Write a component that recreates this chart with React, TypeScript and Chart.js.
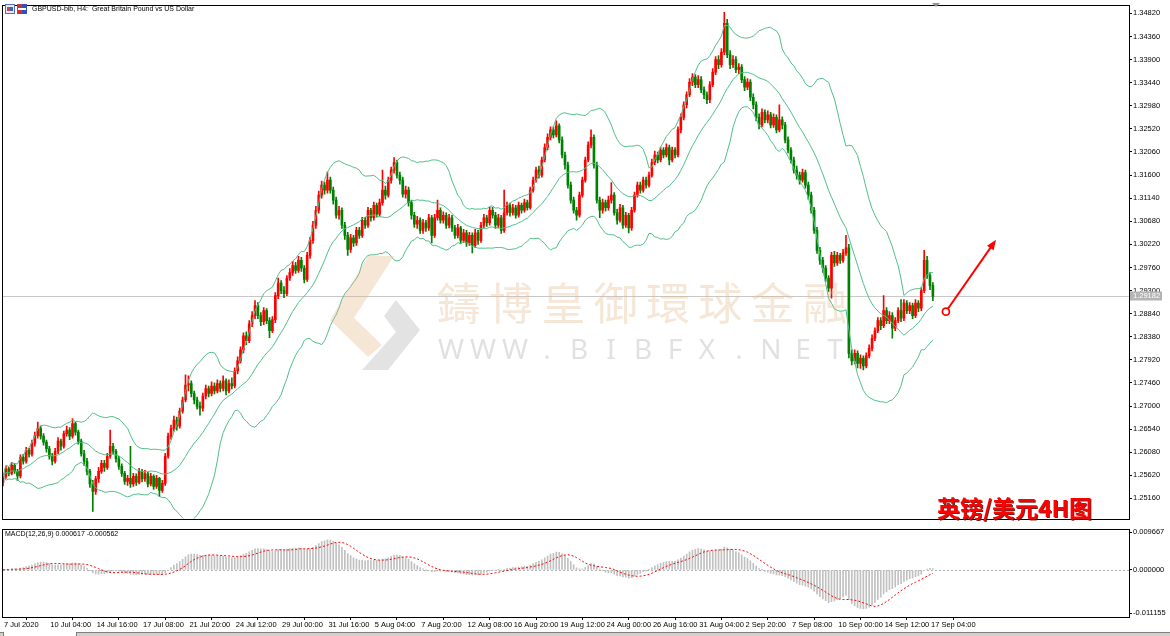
import React, { useEffect, useRef } from "react";
import { Chart, registerables } from "chart.js";

Chart.register(...registerables);

const FONT = "'Liberation Sans', Arial, sans-serif";

const symbolTitle = "GBPUSD-bib, H4:  Great Britain Pound vs US Dollar";
const macdTitle = "MACD(12,26,9) 0.000617 -0.000562";
const chartTag = "英镑/美元4H图";
const watermarkCn = "鑄博皇御環球金融";
const watermarkEn = "WWW.BIBFX.NET";
const lastPriceLabel = "1.29182";

const firstOpen = 1.2548;
const closes = [
  1.2560,1.2575,1.2566,1.2582,1.2570,1.2561,1.2598,1.2590,1.2612,1.2604,
  1.2626,1.2641,1.2655,1.2640,1.2628,1.2615,1.2600,1.2590,1.2610,1.2630,
  1.2620,1.2645,1.2652,1.2640,1.2665,1.2648,1.2630,1.2605,1.2590,1.2570,
  1.2545,1.2530,1.2555,1.2570,1.2586,1.2578,1.2600,1.2620,1.2610,1.2595,
  1.2580,1.2566,1.2550,1.2556,1.2545,1.2560,1.2548,1.2570,1.2555,1.2565,
  1.2545,1.2560,1.2540,1.2556,1.2532,1.2546,1.2600,1.2640,1.2655,1.2672,
  1.2660,1.2690,1.2712,1.2742,1.2745,1.2725,1.2712,1.2700,1.2696,1.2720,
  1.2735,1.2725,1.2740,1.2730,1.2745,1.2735,1.2750,1.2730,1.2745,1.2740,
  1.2770,1.2790,1.2812,1.2840,1.2830,1.2864,1.2880,1.2900,1.2880,1.2868,
  1.2890,1.2870,1.2850,1.2872,1.2920,1.2945,1.2930,1.2924,1.2955,1.2966,
  1.2980,1.2970,1.2990,1.2975,1.2952,1.3000,1.3030,1.3060,1.3090,1.3120,
  1.3140,1.3130,1.3150,1.3130,1.3110,1.3080,1.3090,1.3060,1.3040,1.3012,
  1.3035,1.3025,1.3050,1.3040,1.3070,1.3060,1.3090,1.3075,1.3100,1.3082,
  1.3105,1.3130,1.3120,1.3150,1.3170,1.3185,1.3160,1.3150,1.3122,1.3130,
  1.3105,1.3080,1.3062,1.3070,1.3050,1.3065,1.3055,1.3075,1.3040,1.3075,
  1.3090,1.3070,1.3080,1.3060,1.3075,1.3055,1.3040,1.3055,1.3030,1.3045,
  1.3025,1.3040,1.3020,1.3045,1.3030,1.3060,1.3075,1.3065,1.3090,1.3080,
  1.3060,1.3075,1.3050,1.3085,1.3100,1.3085,1.3095,1.3080,1.3100,1.3090,
  1.3105,1.3095,1.3130,1.3150,1.3170,1.3160,1.3190,1.3215,1.3235,1.3250,
  1.3240,1.3258,1.3230,1.3200,1.3180,1.3140,1.3110,1.3090,1.3080,1.3120,
  1.3150,1.3190,1.3220,1.3235,1.3180,1.3110,1.3090,1.3105,1.3095,1.3110,
  1.3120,1.3085,1.3070,1.3095,1.3060,1.3080,1.3055,1.3090,1.3120,1.3140,
  1.3130,1.3150,1.3140,1.3160,1.3185,1.3200,1.3190,1.3210,1.3200,1.3215,
  1.3190,1.3210,1.3200,1.3250,1.3275,1.3300,1.3320,1.3345,1.3355,1.3340,
  1.3350,1.3330,1.3320,1.3310,1.3340,1.3365,1.3390,1.3380,1.3405,1.3462,
  1.3400,1.3380,1.3390,1.3370,1.3375,1.3350,1.3335,1.3345,1.3315,1.3300,
  1.3275,1.3260,1.3285,1.3270,1.3280,1.3260,1.3275,1.3250,1.3270,1.3260,
  1.3230,1.3210,1.3190,1.3170,1.3160,1.3150,1.3165,1.3140,1.3120,1.3090,
  1.3050,1.3010,1.2990,1.2975,1.2955,1.2935,1.3000,1.2985,1.3000,1.2990,
  1.3005,1.3015,1.2805,1.2790,1.2805,1.2785,1.2795,1.2780,1.2800,1.2815,
  1.2835,1.2850,1.2870,1.2860,1.2890,1.2870,1.2880,1.2855,1.2870,1.2890,
  1.2875,1.2905,1.2890,1.2900,1.2880,1.2905,1.2895,1.2930,1.2990,1.2960,
  1.2940,1.29182
];
const highs = [
  1.2566,1.2580,1.2578,1.2588,1.2586,1.2574,1.2603,1.2604,1.2618,1.2616,
  1.2632,1.2648,1.2668,1.2660,1.2645,1.2632,1.2620,1.2606,1.2616,1.2637,
  1.2634,1.2650,1.2660,1.2657,1.2675,1.2668,1.2652,1.2634,1.2612,1.2596,
  1.2574,1.2552,1.2560,1.2578,1.2592,1.2592,1.2606,1.2652,1.2626,1.2614,
  1.2600,1.2585,1.2570,1.2562,1.2620,1.2566,1.2565,1.2576,1.2574,1.2572,
  1.2568,1.2566,1.2563,1.2562,1.2558,1.2552,1.2606,1.2646,1.2662,1.2680,
  1.2678,1.2696,1.2718,1.2762,1.2760,1.2750,1.2730,1.2718,1.2708,1.2726,
  1.2742,1.2740,1.2748,1.2746,1.2752,1.2750,1.2760,1.2754,1.2752,1.2756,
  1.2776,1.2798,1.2818,1.2846,1.2848,1.2870,1.2888,1.2910,1.2906,1.2886,
  1.2896,1.2894,1.2876,1.2878,1.2926,1.2955,1.2950,1.2938,1.2960,1.2974,
  1.2988,1.2986,1.2998,1.2996,1.2980,1.3006,1.3036,1.3068,1.3098,1.3128,
  1.3148,1.3146,1.3166,1.3156,1.3136,1.3116,1.3098,1.3095,1.3066,1.3046,
  1.3042,1.3040,1.3056,1.3056,1.3076,1.3076,1.3096,1.3094,1.3106,1.3104,
  1.3112,1.3170,1.3138,1.3156,1.3176,1.3195,1.3190,1.3166,1.3156,1.3138,
  1.3136,1.3110,1.3086,1.3078,1.3075,1.3072,1.3070,1.3082,1.3080,1.3082,
  1.3110,1.3095,1.3087,1.3085,1.3082,1.3080,1.3060,1.3062,1.3058,1.3052,
  1.3050,1.3046,1.3045,1.3052,1.3050,1.3066,1.3082,1.3080,1.3096,1.3096,
  1.3086,1.3082,1.3080,1.3130,1.3106,1.3104,1.3102,1.3100,1.3106,1.3104,
  1.3112,1.3110,1.3136,1.3156,1.3176,1.3178,1.3196,1.3222,1.3242,1.3256,
  1.3256,1.3268,1.3262,1.3236,1.3206,1.3186,1.3146,1.3116,1.3096,1.3126,
  1.3156,1.3196,1.3226,1.3250,1.3240,1.3186,1.3116,1.3112,1.3110,1.3118,
  1.3145,1.3125,1.3092,1.3102,1.3100,1.3086,1.3084,1.3096,1.3126,1.3146,
  1.3146,1.3156,1.3156,1.3166,1.3192,1.3208,1.3206,1.3216,1.3215,1.3222,
  1.3220,1.3216,1.3215,1.3256,1.3282,1.3306,1.3326,1.3352,1.3362,1.3360,
  1.3358,1.3356,1.3336,1.3326,1.3346,1.3372,1.3396,1.3398,1.3412,1.3484,
  1.3470,1.3408,1.3398,1.3396,1.3382,1.3380,1.3356,1.3352,1.3350,1.3322,
  1.3306,1.3282,1.3292,1.3290,1.3288,1.3285,1.3282,1.3280,1.3300,1.3276,
  1.3265,1.3236,1.3215,1.3196,1.3178,1.3166,1.3172,1.3170,1.3146,1.3126,
  1.3096,1.3056,1.3016,1.2996,1.2980,1.2960,1.3006,1.3008,1.3006,1.3004,
  1.3012,1.3040,1.3022,1.2812,1.2812,1.2810,1.2802,1.2800,1.2806,1.2822,
  1.2842,1.2856,1.2876,1.2876,1.2920,1.2896,1.2888,1.2886,1.2876,1.2896,
  1.2912,1.2912,1.2910,1.2906,1.2905,1.2912,1.2910,1.2936,1.3010,1.2998,
  1.2966,1.2946
];
const lows = [
  1.2541,1.2556,1.2561,1.2563,1.2566,1.2552,1.2557,1.2584,1.2586,1.2598,
  1.2600,1.2620,1.2636,1.2634,1.2622,1.2608,1.2594,1.2583,1.2586,1.2605,
  1.2612,1.2616,1.2640,1.2633,1.2636,1.2642,1.2624,1.2600,1.2582,1.2563,
  1.2538,1.2490,1.2524,1.2548,1.2566,1.2570,1.2574,1.2596,1.2604,1.2588,
  1.2574,1.2560,1.2544,1.2542,1.2538,1.2540,1.2542,1.2545,1.2549,1.2550,
  1.2539,1.2541,1.2534,1.2536,1.2520,1.2528,1.2542,1.2596,1.2634,1.2650,
  1.2652,1.2656,1.2686,1.2708,1.2730,1.2718,1.2704,1.2694,1.2682,1.2690,
  1.2714,1.2718,1.2720,1.2724,1.2726,1.2728,1.2730,1.2722,1.2726,1.2734,
  1.2736,1.2764,1.2786,1.2806,1.2822,1.2826,1.2858,1.2874,1.2874,1.2860,
  1.2862,1.2864,1.2836,1.2846,1.2866,1.2914,1.2924,1.2916,1.2920,1.2950,
  1.2960,1.2964,1.2966,1.2968,1.2945,1.2948,1.2994,1.3024,1.3054,1.3084,
  1.3114,1.3122,1.3124,1.3124,1.3102,1.3074,1.3072,1.3054,1.3032,1.3000,
  1.3006,1.3018,1.3020,1.3034,1.3036,1.3054,1.3056,1.3068,1.3070,1.3076,
  1.3078,1.3100,1.3112,1.3116,1.3144,1.3164,1.3154,1.3142,1.3116,1.3114,
  1.3098,1.3072,1.3056,1.3054,1.3044,1.3044,1.3048,1.3050,1.3025,1.3036,
  1.3070,1.3064,1.3064,1.3054,1.3055,1.3048,1.3034,1.3035,1.3024,1.3026,
  1.3018,1.3020,1.3005,1.3016,1.3022,1.3026,1.3055,1.3058,1.3060,1.3074,
  1.3054,1.3055,1.3044,1.3046,1.3080,1.3078,1.3080,1.3074,1.3076,1.3084,
  1.3086,1.3090,1.3092,1.3126,1.3146,1.3154,1.3156,1.3186,1.3210,1.3230,
  1.3234,1.3236,1.3224,1.3194,1.3172,1.3134,1.3104,1.3084,1.3070,1.3076,
  1.3116,1.3146,1.3186,1.3214,1.3174,1.3104,1.3075,1.3084,1.3088,1.3090,
  1.3104,1.3080,1.3062,1.3066,1.3054,1.3056,1.3045,1.3050,1.3086,1.3116,
  1.3124,1.3126,1.3134,1.3136,1.3156,1.3180,1.3184,1.3186,1.3194,1.3196,
  1.3180,1.3186,1.3194,1.3196,1.3244,1.3270,1.3294,1.3316,1.3338,1.3334,
  1.3334,1.3324,1.3312,1.3302,1.3304,1.3336,1.3360,1.3372,1.3375,1.3400,
  1.3394,1.3372,1.3374,1.3364,1.3362,1.3344,1.3328,1.3330,1.3308,1.3292,
  1.3268,1.3252,1.3256,1.3264,1.3264,1.3254,1.3255,1.3244,1.3246,1.3252,
  1.3224,1.3204,1.3184,1.3164,1.3152,1.3142,1.3146,1.3134,1.3112,1.3084,
  1.3044,1.3004,1.2982,1.2966,1.2948,1.2928,1.2915,1.2978,1.2980,1.2984,
  1.2986,1.3000,1.2796,1.2782,1.2784,1.2776,1.2775,1.2772,1.2776,1.2796,
  1.2810,1.2830,1.2846,1.2852,1.2856,1.2864,1.2864,1.2835,1.2850,1.2866,
  1.2868,1.2870,1.2884,1.2884,1.2874,1.2876,1.2888,1.2890,1.2926,1.2954,
  1.2932,1.2910
];

const timeLabels = [
  "7 Jul 2020", "10 Jul 04:00", "14 Jul 16:00", "17 Jul 08:00", "21 Jul 20:00",
  "24 Jul 12:00", "29 Jul 00:00", "31 Jul 16:00", "5 Aug 04:00", "7 Aug 20:00",
  "12 Aug 08:00", "16 Aug 20:00", "19 Aug 12:00", "24 Aug 00:00", "26 Aug 16:00",
  "31 Aug 04:00", "2 Sep 20:00", "7 Sep 08:00", "10 Sep 00:00", "14 Sep 12:00",
  "17 Sep 04:00"
];
const timeLabelStep = 16;

const priceTicks = [
  1.34820, 1.34360, 1.33900, 1.33440, 1.32980, 1.32520, 1.32060, 1.31600,
  1.31140, 1.30680, 1.30220, 1.29760, 1.29300, 1.28840, 1.28380, 1.27920,
  1.27460, 1.27000, 1.26540, 1.26080, 1.25620, 1.25160
];
const priceMin = 1.247604;
const priceMax = 1.349775;
const macdTicks = [0.009667, 0.0, -0.011155];
const macdMin = -0.012147;
const macdMax = 0.010411;
const xMin = 0;
const xMax = 388.7;

const bandPeriod = 20;
const bandDev = 2;
const macdFast = 12;
const macdSlow = 26;
const macdSignal = 9;

const arrowStart = [325.5, 1.2888];
const arrowEnd = [342.8, 1.3031];

const UP = "#ff0000";
const DOWN = "#008000";
const BAND = "#4fbf88";

function poly(ctx: any, pts: number[][]) {
  ctx.beginPath();
  ctx.moveTo(pts[0][0], pts[0][1]);
  for (let i = 1; i < pts.length; i++) ctx.lineTo(pts[i][0], pts[i][1]);
  ctx.closePath();
  ctx.fill();
}

function frame(ctx: any, a: any) {
  const L = Math.round(a.left) - 0.5;
  const T = Math.round(a.top) - 0.5;
  const R = Math.round(a.right) + 0.5;
  const B = Math.round(a.bottom) + 0.5;
  ctx.save();
  ctx.strokeStyle = "#000";
  ctx.lineWidth = 1;
  ctx.strokeRect(L, T, R - L, B - T);
  ctx.restore();
}

export default function App() {
  const mainRef = useRef<HTMLCanvasElement>(null);
  const macdRef = useRef<HTMLCanvasElement>(null);

  useEffect(() => {
    const n = closes.length;
    const opens = [firstOpen, ...closes.slice(0, n - 1)];

    const mid: number[] = [], upper: number[] = [], lower: number[] = [];
    for (let i = 0; i < n; i++) {
      const w = closes.slice(Math.max(0, i - bandPeriod + 1), i + 1);
      const m = w.reduce((s, v) => s + v, 0) / w.length;
      const sd = Math.sqrt(w.reduce((s, v) => s + (v - m) * (v - m), 0) / w.length);
      mid.push(m);
      upper.push(m + bandDev * sd);
      lower.push(m - bandDev * sd);
    }

    const kf = 2 / (macdFast + 1), ks = 2 / (macdSlow + 1);
    let ef = closes[0], es = closes[0];
    const macd: number[] = [];
    for (let i = 0; i < n; i++) {
      ef = ef + kf * (closes[i] - ef);
      es = es + ks * (closes[i] - es);
      macd.push(ef - es);
    }
    const signal: number[] = [];
    for (let i = 0; i < n; i++) {
      const w = macd.slice(Math.max(0, i - macdSignal + 1), i + 1);
      signal.push(w.reduce((s, v) => s + v, 0) / w.length);
    }

    const colors = closes.map((c, i) => (c >= opens[i] ? UP : DOWN));
    const idx = closes.map((_, i) => i);
    const tickFont = { family: FONT, size: 7.5 };

    const mainPlugin = {
      id: "mainDecor",
      beforeDatasetsDraw(chart: any) {
        const { ctx, chartArea: a, scales } = chart;
        const y = Math.round(scales.y.getPixelForValue(closes[n - 1])) + 0.5;
        ctx.save();
        ctx.strokeStyle = "#c8c8c8";
        ctx.lineWidth = 1;
        ctx.beginPath();
        ctx.moveTo(a.left, y);
        ctx.lineTo(a.right, y);
        ctx.stroke();
        ctx.restore();
      },
      afterDatasetsDraw(chart: any) {
        const { ctx, scales } = chart;
        ctx.save();
        ctx.globalAlpha = 0.33;
        ctx.fillStyle = "rgb(226,178,132)";
        poly(ctx, [[368, 256], [394, 256], [354, 318], [382, 345], [368, 357], [330, 320]]);
        ctx.fillStyle = "rgb(170,170,170)";
        poly(ctx, [[396, 300], [420, 330], [388, 370], [362, 370], [396, 332], [384, 316]]);
        ctx.fillStyle = "rgb(226,178,132)";
        ctx.font = "44px 'Noto Sans CJK TC'";
        ctx.textAlign = "center";
        ctx.textBaseline = "middle";
        for (let k = 0; k < watermarkCn.length; k++) {
          ctx.fillText(watermarkCn[k], 458.8 + 52.3 * k, 303);
        }
        ctx.fillStyle = "rgb(165,165,165)";
        ctx.font = "28px 'Noto Sans'";
        for (let k = 0; k < watermarkEn.length; k++) {
          ctx.fillText(watermarkEn[k], 451 + 32 * k, 351);
        }
        ctx.restore();

        const x1 = scales.x.getPixelForValue(arrowStart[0]);
        const y1 = scales.y.getPixelForValue(arrowStart[1]);
        const x2 = scales.x.getPixelForValue(arrowEnd[0]);
        const y2 = scales.y.getPixelForValue(arrowEnd[1]);
        const ang = Math.atan2(y2 - y1, x2 - x1);
        const c = Math.cos(ang), s = Math.sin(ang);
        const r = 3.5;
        ctx.save();
        ctx.strokeStyle = "#ff0000";
        ctx.fillStyle = "#ff0000";
        ctx.lineWidth = 2;
        ctx.beginPath();
        ctx.moveTo(x1 + r * c, y1 + r * s);
        ctx.lineTo(x2 - 8 * c, y2 - 8 * s);
        ctx.stroke();
        ctx.beginPath();
        ctx.moveTo(x2, y2);
        ctx.lineTo(x2 - 10 * c + 4 * s, y2 - 10 * s - 4 * c);
        ctx.lineTo(x2 - 10 * c - 4 * s, y2 - 10 * s + 4 * c);
        ctx.closePath();
        ctx.fill();
        ctx.beginPath();
        ctx.arc(x1, y1, r, 0, Math.PI * 2);
        ctx.fillStyle = "#ffffff";
        ctx.fill();
        ctx.lineWidth = 1.8;
        ctx.stroke();
        ctx.restore();
      },
      afterDraw(chart: any) {
        const { ctx, chartArea: a, scales } = chart;
        frame(ctx, a);
        ctx.save();
        ctx.fillStyle = "#e6ebf7";
        ctx.fillRect(5, 4, 10, 10);
        ctx.strokeStyle = "#5070b0";
        ctx.lineWidth = 1;
        ctx.strokeRect(5.5, 4.5, 9, 9);
        ctx.fillStyle = "#d84040";
        ctx.fillRect(7, 7, 3, 4);
        ctx.fillStyle = "#4060c0";
        ctx.fillRect(10, 7, 3, 4);
        ctx.fillStyle = "#d03030";
        ctx.fillRect(17, 4, 5, 10);
        ctx.fillStyle = "#3050c0";
        ctx.fillRect(22, 4, 5, 10);
        ctx.fillStyle = "#ffffff";
        ctx.fillRect(18, 8, 8, 2);
        ctx.fillStyle = "#000";
        ctx.font = "7px " + FONT;
        ctx.textAlign = "left";
        ctx.textBaseline = "middle";
        ctx.fillText(symbolTitle, 32, 9.5);
        ctx.fillStyle = "#909090";
        poly(ctx, [[932, 3], [940, 3], [936, 7]]);
        const y = Math.round(scales.y.getPixelForValue(closes[n - 1]));
        ctx.fillStyle = "#b4b4b4";
        ctx.fillRect(a.right + 1, y - 4.5, 32, 9);
        ctx.fillStyle = "#ffffff";
        ctx.font = "7.5px " + FONT;
        ctx.fillText(lastPriceLabel, a.right + 4, y);
        ctx.restore();
      },
    };

    const main = new Chart(mainRef.current as HTMLCanvasElement, {
      type: "bar",
      data: {
        datasets: [
          { type: "line", data: idx.map((i) => ({ x: i, y: upper[i] })), borderColor: BAND, borderWidth: 1, pointRadius: 0, tension: 0, fill: false, order: 0 } as any,
          { type: "line", data: idx.map((i) => ({ x: i, y: mid[i] })), borderColor: BAND, borderWidth: 1, pointRadius: 0, tension: 0, fill: false, order: 0 } as any,
          { type: "line", data: idx.map((i) => ({ x: i, y: lower[i] })), borderColor: BAND, borderWidth: 1, pointRadius: 0, tension: 0, fill: false, order: 0 } as any,
          { type: "bar", data: idx.map((i) => ({ x: i, y: [opens[i], closes[i]] })), backgroundColor: colors, borderWidth: 0, barThickness: 2, minBarLength: 1, grouped: false, order: 1 } as any,
          { type: "bar", data: idx.map((i) => ({ x: i, y: [lows[i], highs[i]] })), backgroundColor: colors, borderWidth: 0, barThickness: 1, grouped: false, order: 2 } as any,
        ],
      },
      options: {
        responsive: false,
        animation: false,
        devicePixelRatio: 1,
        events: [],
        layout: { padding: { left: 3, top: 3, right: 0, bottom: 2 } },
        plugins: { legend: { display: false }, tooltip: { enabled: false } },
        scales: {
          x: { type: "linear", min: xMin, max: xMax, display: false, offset: false },
          y: {
            type: "linear",
            position: "right",
            min: priceMin,
            max: priceMax,
            afterBuildTicks: (s: any) => { s.ticks = priceTicks.map((v) => ({ value: v })); },
            afterFit: (s: any) => { s.width = 41; },
            grid: { drawOnChartArea: false, drawTicks: true, tickLength: 3, color: "#000" },
            border: { display: false },
            ticks: { autoSkip: false, padding: 1, color: "#000", font: tickFont, callback: (v: any) => Number(v).toFixed(5) },
          },
        },
      } as any,
      plugins: [mainPlugin],
    });

    const macdPlugin = {
      id: "macdDecor",
      beforeDatasetsDraw(chart: any) {
        const { ctx, chartArea: a, scales } = chart;
        const y = Math.round(scales.y.getPixelForValue(0)) + 0.5;
        ctx.save();
        ctx.strokeStyle = "#b0b0b0";
        ctx.lineWidth = 1;
        ctx.setLineDash([2, 2]);
        ctx.beginPath();
        ctx.moveTo(a.left, y);
        ctx.lineTo(a.right, y);
        ctx.stroke();
        ctx.restore();
      },
      afterDraw(chart: any) {
        const { ctx, chartArea: a } = chart;
        frame(ctx, a);
        ctx.save();
        ctx.fillStyle = "#000";
        ctx.font = "7px " + FONT;
        ctx.textAlign = "left";
        ctx.textBaseline = "middle";
        ctx.fillText(macdTitle, 5, a.top + 4.5);
        ctx.restore();
      },
    };

    const labelAt: Record<number, string> = {};
    timeLabels.forEach((t, k) => { labelAt[k * timeLabelStep] = t; });

    const macdChart = new Chart(macdRef.current as HTMLCanvasElement, {
      type: "bar",
      data: {
        datasets: [
          { type: "line", data: idx.map((i) => ({ x: i, y: signal[i] })), borderColor: "#ff0000", borderWidth: 1, borderDash: [2, 2], pointRadius: 0, tension: 0, fill: false, order: 0 } as any,
          { type: "bar", data: idx.map((i) => ({ x: i, y: macd[i] })), backgroundColor: "#c0c0c0", borderWidth: 0, barThickness: 1, grouped: false, order: 1 } as any,
        ],
      },
      options: {
        responsive: false,
        animation: false,
        devicePixelRatio: 1,
        events: [],
        layout: { padding: { left: 3, top: 2, right: 0, bottom: 0 } },
        plugins: { legend: { display: false }, tooltip: { enabled: false } },
        scales: {
          x: {
            type: "linear",
            min: xMin,
            max: xMax,
            offset: false,
            position: "bottom",
            afterBuildTicks: (s: any) => { s.ticks = timeLabels.map((_, k) => ({ value: k * timeLabelStep })); },
            afterFit: (s: any) => { s.height = 19; },
            grid: { drawOnChartArea: false, drawTicks: true, tickLength: 3, color: "#000" },
            border: { display: false },
            ticks: { autoSkip: false, maxRotation: 0, minRotation: 0, align: "start", labelOffset: 1, padding: 0, color: "#000", font: tickFont, callback: (v: any) => labelAt[Math.round(Number(v))] ?? "" },
          },
          y: {
            type: "linear",
            position: "right",
            min: macdMin,
            max: macdMax,
            afterBuildTicks: (s: any) => { s.ticks = macdTicks.map((v) => ({ value: v })); },
            afterFit: (s: any) => { s.width = 41; },
            grid: { drawOnChartArea: false, drawTicks: true, tickLength: 3, color: "#000" },
            border: { display: false },
            ticks: { autoSkip: false, padding: 1, color: "#000", font: tickFont, callback: (v: any) => Number(v).toFixed(6) },
          },
        },
      } as any,
      plugins: [macdPlugin],
    });

    return () => {
      main.destroy();
      macdChart.destroy();
    };
  }, []);

  return (
    <div style={{ position: "fixed", left: 0, top: 0, width: 1170, height: 636, background: "#ffffff", overflow: "hidden" }}>
      <canvas ref={mainRef} width={1170} height={524} style={{ position: "absolute", left: 0, top: 0 }} />
      <canvas ref={macdRef} width={1170} height={112} style={{ position: "absolute", left: 0, top: 524 }} />
      <div
        style={{
          position: "absolute",
          left: 937,
          top: 496,
          font: "700 23px 'Noto Sans CJK SC', sans-serif",
          lineHeight: "23px",
          color: "#ff0000",
          whiteSpace: "nowrap",
          textShadow: "1px 1px 0 rgba(90,0,0,0.85)",
        }}
      >
        {chartTag}
      </div>
      <div style={{ position: "absolute", left: 0, top: 632, width: 1170, height: 4, background: "#d4d0c8", borderTop: "1px solid #808080" }} />
      <div style={{ position: "absolute", left: 3, top: 632, width: 72, height: 4, background: "#ffffff", borderLeft: "1px solid #808080", borderRight: "1px solid #808080" }} />
    </div>
  );
}
